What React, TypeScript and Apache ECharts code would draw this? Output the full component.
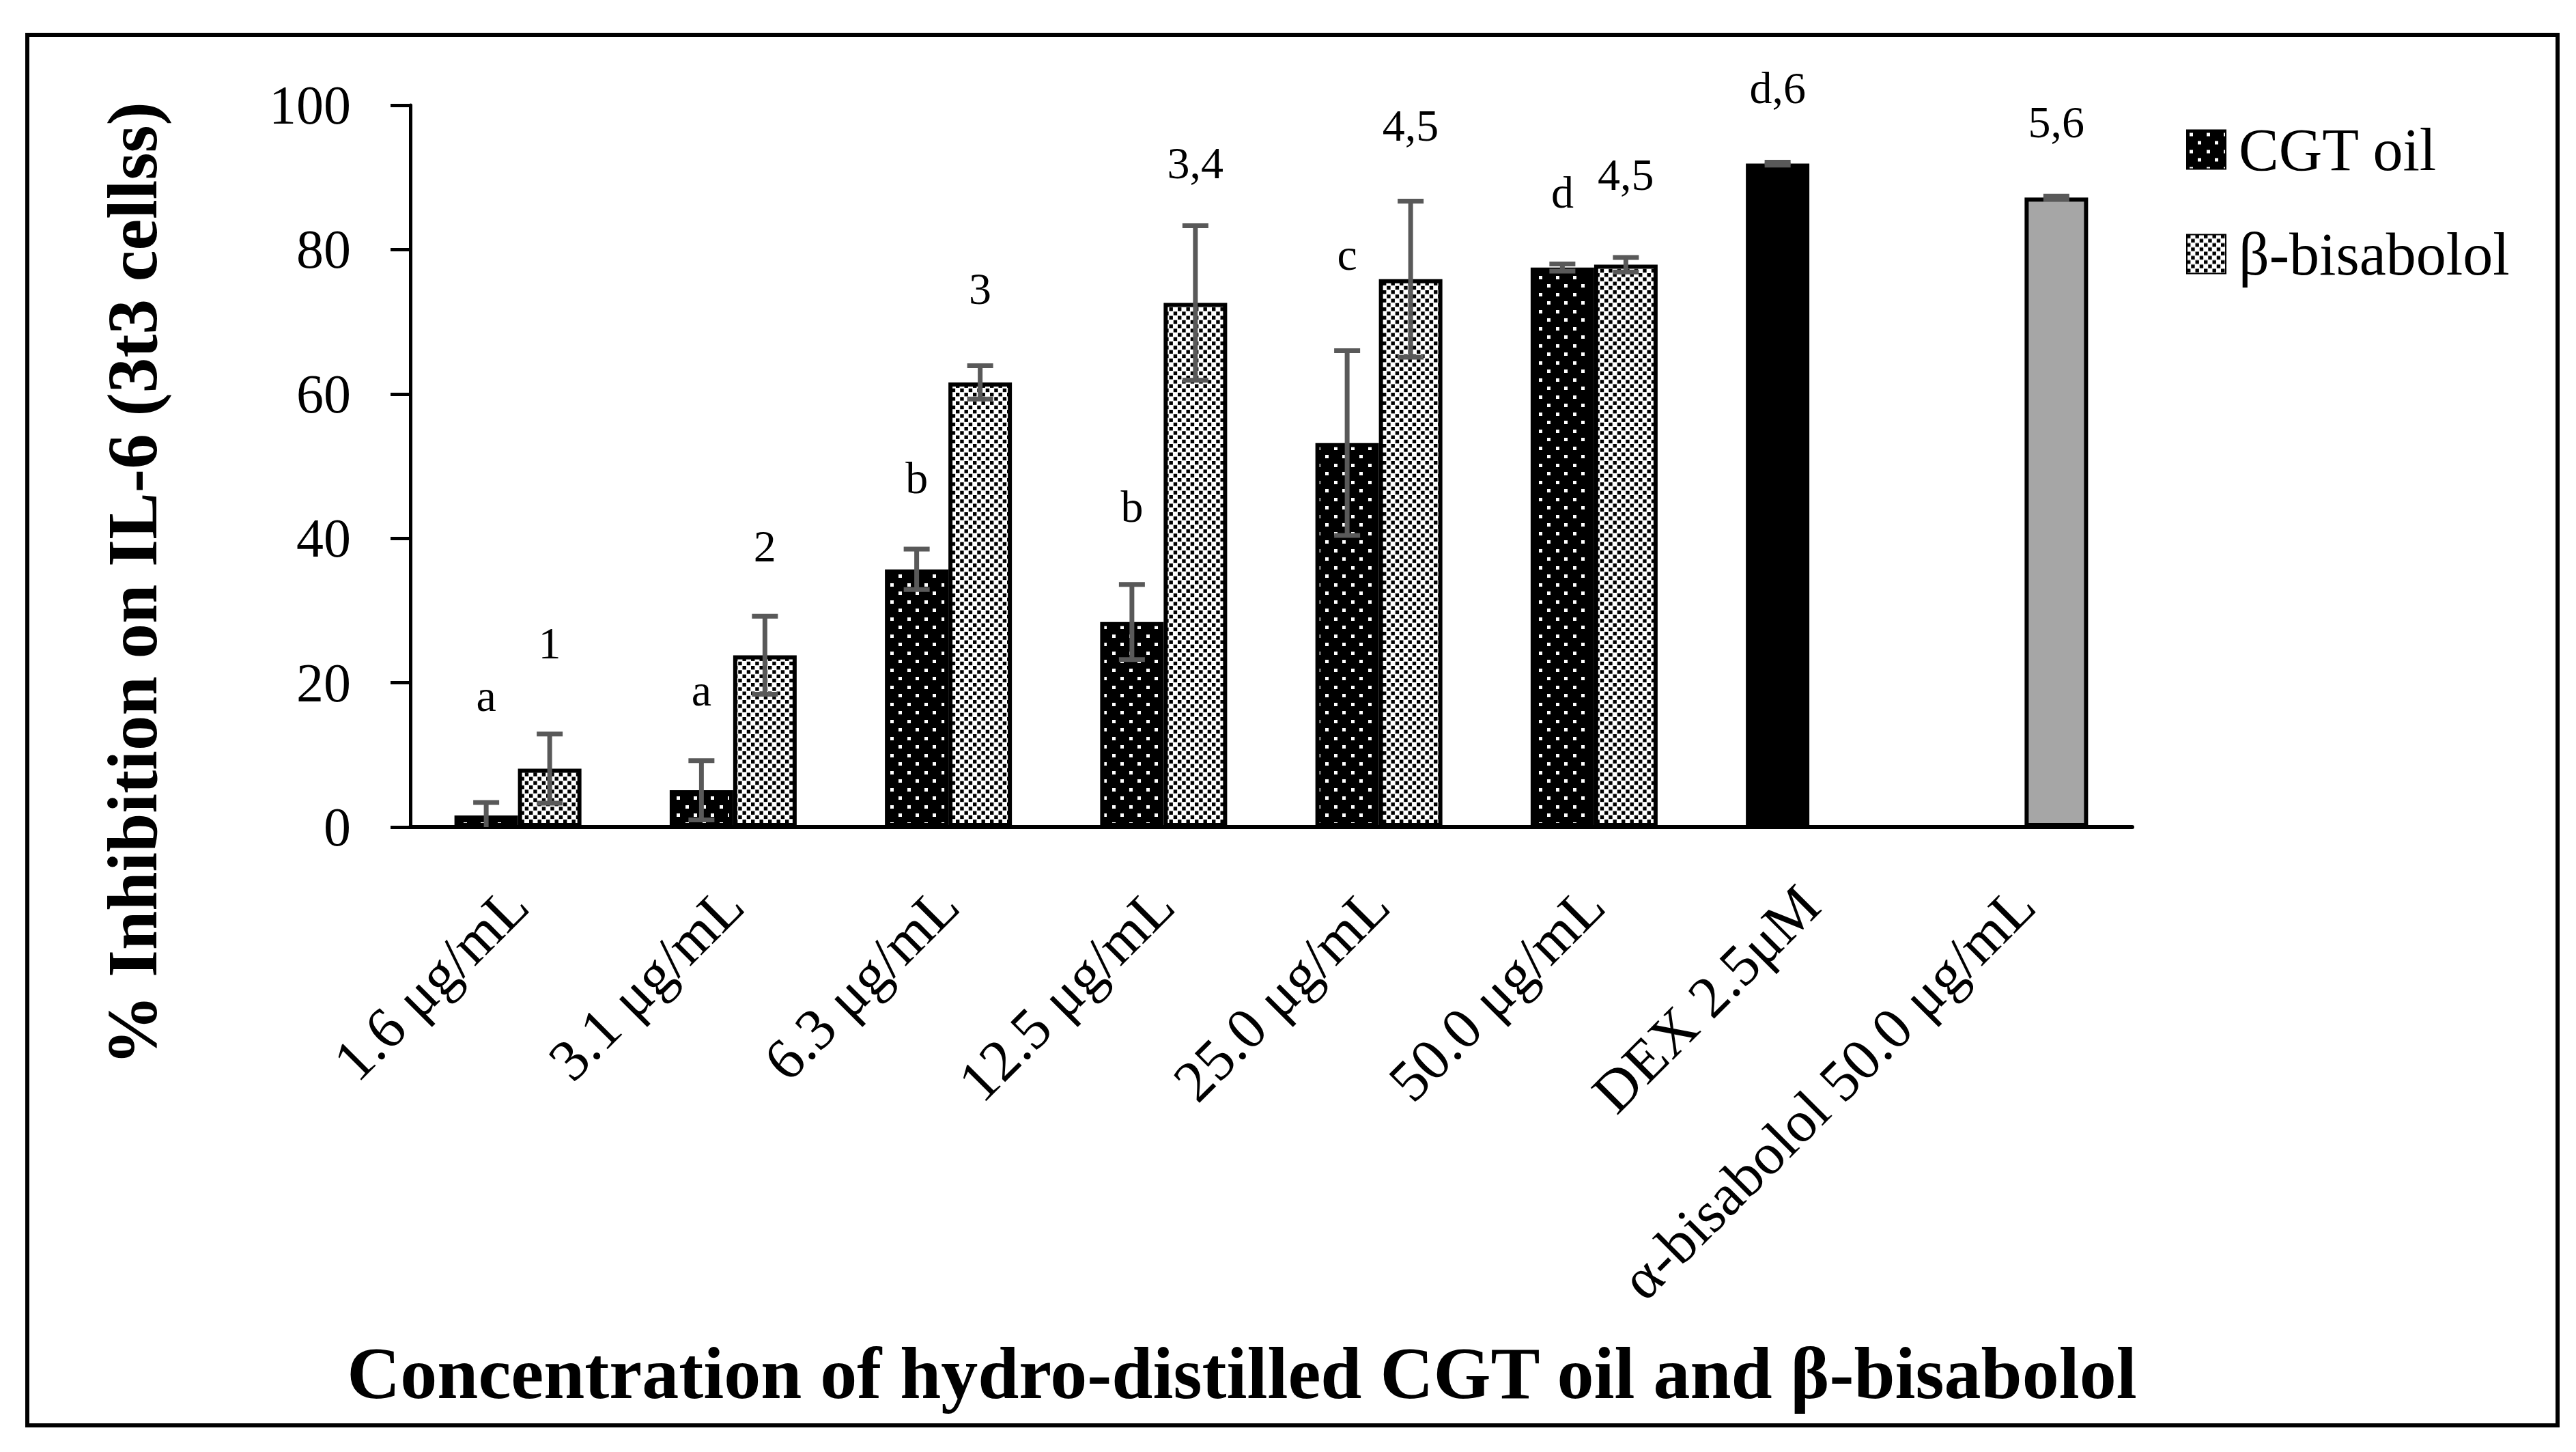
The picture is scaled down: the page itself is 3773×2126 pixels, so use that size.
import React, { useEffect, useRef } from "react";
import * as echarts from "echarts";

const categories = [
  "1.6 μg/mL",
  "3.1 μg/mL",
  "6.3 μg/mL",
  "12.5 μg/mL",
  "25.0 μg/mL",
  "50.0 μg/mL",
  "DEX 2.5μM",
  "α-bisabolol 50.0 μg/mL",
];
const cgtValues: (number | null)[] = [1.6, 5.1, 35.7, 28.4, 53.2, 77.5, 91.9, null];
const cgtErrors: (number | null)[] = [1.8, 4.1, 2.8, 5.2, 12.8, 0.5, 0.2, null];
const betaValues: (number | null)[] = [8.1, 23.8, 61.6, 72.6, 75.9, 77.9, null, 87.2];
const betaErrors: (number | null)[] = [4.8, 5.4, 2.3, 10.7, 10.8, 1.0, null, 0.2];
const cgtLetters = ["a", "a", "b", "b", "c", "d", "d,6", ""];
const cgtLetterY: (number | null)[] = [18.2, 19.0, 48.4, 44.4, 79.3, 87.9, 102.4, null];
const betaLetters = ["1", "2", "3", "3,4", "4,5", "4,5", "", "5,6"];
const betaLetterY: (number | null)[] = [25.5, 38.9, 74.6, 92.0, 97.2, 90.4, null, 97.7];
const yTicks = [0, 20, 40, 60, 80, 100];

const FONT = "'Liberation Serif', 'Times New Roman', serif";
const BAR_FRACTION = 0.59;
const ERR_COLOR = "#595959";

function makeDots(): HTMLCanvasElement {
  const c = document.createElement("canvas");
  c.width = 25;
  c.height = 25;
  const g = c.getContext("2d")!;
  g.fillStyle = "#000";
  g.fillRect(0, 0, 25, 25);
  g.fillStyle = "#fff";
  g.fillRect(4, 4, 5, 5);
  g.fillRect(16, 16, 5, 5);
  return c;
}

function makeChecker(): HTMLCanvasElement {
  const c = document.createElement("canvas");
  c.width = 25;
  c.height = 25;
  const g = c.getContext("2d")!;
  g.fillStyle = "#fff";
  g.fillRect(0, 0, 25, 25);
  g.fillStyle = "#000";
  const p = 6.25;
  for (let i = 0; i < 4; i++) {
    for (let j = 0; j < 4; j++) {
      if ((i + j) % 2 === 0) g.fillRect(i * p, j * p, 5.4, 5.4);
    }
  }
  return c;
}

export default function App() {
  const ref = useRef<HTMLDivElement>(null);
  useEffect(() => {
    if (!ref.current) return;
    const chart = echarts.init(ref.current, undefined, { renderer: "svg" });
    const dots = { image: makeDots(), repeat: "repeat" } as any;
    const checker = { image: makeChecker(), repeat: "repeat" } as any;

    const errItems: { i: number; v: number; e: number; side: number }[] = [];
    cgtValues.forEach((v, i) => {
      const e = cgtErrors[i];
      if (v != null && e != null) errItems.push({ i, v, e, side: -1 });
    });
    betaValues.forEach((v, i) => {
      const e = betaErrors[i];
      if (v != null && e != null) errItems.push({ i, v, e, side: 1 });
    });

    const letterItems: { i: number; y: number; text: string; side: number }[] = [];
    cgtLetters.forEach((t, i) => {
      const y = cgtLetterY[i];
      if (t && y != null) letterItems.push({ i, y, text: t, side: -1 });
    });
    betaLetters.forEach((t, i) => {
      const y = betaLetterY[i];
      if (t && y != null) letterItems.push({ i, y, text: t, side: 1 });
    });

    const cgtData = cgtValues.map((v, i) =>
      v == null
        ? "-"
        : i === 6
        ? { value: v, itemStyle: { color: "#000000" } }
        : v
    );
    const betaData = betaValues.map((v, i) =>
      v == null
        ? "-"
        : i === 7
        ? { value: v, itemStyle: { color: "#A6A6A6" } }
        : v
    );

    chart.setOption({
      animation: false,
      backgroundColor: "#ffffff",
      grid: { left: 601, right: 650, top: 154, bottom: 915, containLabel: false },
      legend: {
        orient: "vertical",
        left: 3197,
        top: 170,
        itemWidth: 57,
        itemHeight: 57,
        itemGap: 65,
        icon: "rect",
        itemStyle: { borderWidth: 2, borderColor: "#000" },
        textStyle: {
          fontFamily: FONT,
          fontSize: 88,
          lineHeight: 60,
          color: "#000",
          padding: [0, 0, 0, 14],
        },
        data: ["CGT oil", "β-bisabolol"],
      },
      xAxis: {
        type: "category",
        data: categories,
        name: "Concentration of hydro-distilled CGT oil and β-bisabolol",
        nameLocation: "middle",
        nameGap: 745,
        nameTextStyle: {
          fontFamily: FONT,
          fontWeight: "bold",
          fontSize: 108,
          color: "#000",
          padding: [0, 86, 0, 0],
        },
        axisLine: { show: true, lineStyle: { color: "#000", width: 6 } },
        axisTick: { show: false },
        axisLabel: {
          interval: 0,
          rotate: 45,
          margin: 100,
          fontFamily: FONT,
          fontSize: 86,
          color: "#000",
        },
      },
      yAxis: {
        type: "value",
        min: 0,
        max: 100,
        interval: 20,
        name: "% Inhibition on IL-6 (3t3 cellss)",
        nameLocation: "middle",
        nameRotate: 90,
        nameGap: 356,
        nameTextStyle: {
          fontFamily: FONT,
          fontWeight: "bold",
          fontSize: 103,
          color: "#000",
          padding: [0, 344, 0, 0],
        },
        axisLine: { show: true, lineStyle: { color: "#000", width: 5 } },
        axisTick: { show: true, length: 29, inside: false, lineStyle: { color: "#000", width: 5 } },
        splitLine: { show: false },
        axisLabel: {
          margin: 87,
          fontFamily: FONT,
          fontSize: 80,
          color: "#000",
          formatter: (v: number) => (yTicks.indexOf(v) >= 0 ? String(v) : ""),
        },
      },
      graphic: [
        {
          type: "rect",
          shape: { x: 40, y: 51, width: 3706, height: 2036 },
          style: { fill: "none", stroke: "#000", lineWidth: 6 },
          z: 100,
        },
      ],
      series: [
        {
          name: "CGT oil",
          type: "bar",
          data: cgtData,
          barGap: "0%",
          barCategoryGap: "41%",
          itemStyle: { color: dots, borderColor: "#000", borderWidth: 6 },
          z: 2,
        },
        {
          name: "β-bisabolol",
          type: "bar",
          data: betaData,
          barGap: "0%",
          barCategoryGap: "41%",
          itemStyle: { color: checker, borderColor: "#000", borderWidth: 6 },
          z: 2,
        },
        {
          type: "custom",
          name: "errors",
          z: 5,
          clip: true,
          encode: { x: 0, y: 1 },
          data: errItems.map((d) => [d.i, d.v, d.e]),
          renderItem: (params: any, api: any) => {
            const it = errItems[params.dataIndex];
            const band = api.size([1, 0])[0];
            const bw = (band * BAR_FRACTION) / 2;
            const cx = api.coord([it.i, 0])[0] + (it.side * bw) / 2;
            const yTop = api.coord([it.i, it.v + it.e])[1];
            const low = it.v - it.e;
            const yBot = api.coord([it.i, Math.max(low, 0)])[1];
            const half = 19;
            const style = { stroke: ERR_COLOR, lineWidth: 7 };
            const children: any[] = [
              { type: "line", shape: { x1: cx, y1: yTop, x2: cx, y2: yBot }, style },
              { type: "line", shape: { x1: cx - half, y1: yTop, x2: cx + half, y2: yTop }, style },
            ];
            if (low >= 0) {
              children.push({
                type: "line",
                shape: { x1: cx - half, y1: yBot, x2: cx + half, y2: yBot },
                style,
              });
            }
            return { type: "group", children };
          },
        },
        {
          type: "custom",
          name: "letters",
          z: 6,
          clip: false,
          encode: { x: 0, y: 1 },
          data: letterItems.map((d) => [d.i, d.y]),
          renderItem: (params: any, api: any) => {
            const it = letterItems[params.dataIndex];
            const band = api.size([1, 0])[0];
            const bw = (band * BAR_FRACTION) / 2;
            const p = api.coord([it.i, it.y]);
            return {
              type: "text",
              style: {
                text: it.text,
                x: p[0] + (it.side * bw) / 2,
                y: p[1],
                align: "center",
                verticalAlign: "middle",
                fontFamily: FONT,
                fontSize: 66,
                fill: "#000",
              },
            };
          },
        },
      ],
    });
    return () => chart.dispose();
  }, []);
  return (
    <div
      ref={ref}
      style={{ position: "fixed", left: 0, top: 0, width: "3773px", height: "2126px", background: "#fff" }}
    />
  );
}
